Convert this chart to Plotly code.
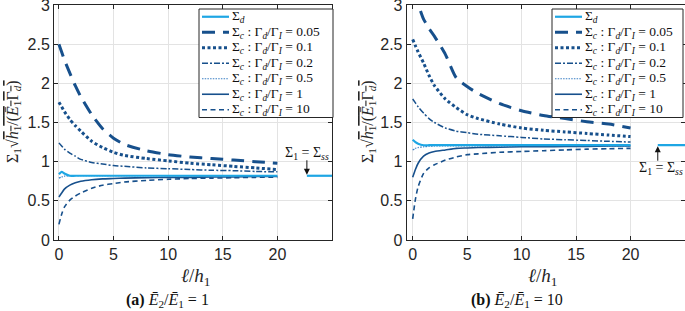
import plotly.graph_objects as go

W, H = 685, 311

# ---------------- data ----------------
x_grid = [0, 0.25, 0.5, 1, 1.5, 2, 3, 4, 5, 6, 8, 10, 12, 14, 16, 18, 20]

# Panel (a): E2/E1 = 1
a_sd   = [0.84, 0.87, 0.85, 0.82, 0.82, 0.82, 0.82, 0.82, 0.82, 0.82, 0.82, 0.82, 0.82, 0.82, 0.82, 0.82, 0.82]
a_005  = [2.5, 2.4, 2.3, 2.13, 1.97, 1.83, 1.6, 1.42, 1.3, 1.22, 1.14, 1.09, 1.06, 1.04, 1.02, 1.0, 0.98]
a_01   = [1.76, 1.7, 1.64, 1.54, 1.46, 1.39, 1.26, 1.18, 1.12, 1.08, 1.04, 1.01, 0.98, 0.96, 0.94, 0.92, 0.9]
a_02   = [1.24, 1.2, 1.16, 1.11, 1.07, 1.03, 0.99, 0.97, 0.95, 0.94, 0.92, 0.91, 0.9, 0.89, 0.885, 0.875, 0.87]
a_05   = [0.79, 0.805, 0.815, 0.82, 0.82, 0.82, 0.82, 0.82, 0.82, 0.82, 0.82, 0.82, 0.82, 0.82, 0.82, 0.82, 0.82]
a_1    = [0.55, 0.6, 0.65, 0.7, 0.73, 0.75, 0.77, 0.78, 0.785, 0.79, 0.795, 0.8, 0.8, 0.805, 0.805, 0.81, 0.81]
a_10   = [0.2, 0.33, 0.42, 0.51, 0.56, 0.6, 0.66, 0.7, 0.72, 0.74, 0.76, 0.775, 0.785, 0.79, 0.795, 0.8, 0.8]
a_ss_x = [22.7, 25]
a_ss   = [0.82, 0.82]

# Panel (b): E2/E1 = 10
b_sd   = [1.28, 1.25, 1.23, 1.21, 1.21, 1.21, 1.21, 1.21, 1.21, 1.21, 1.21, 1.21, 1.21, 1.21, 1.21, 1.21, 1.21]
b_005  = [3.45, 3.25, 3.02, 2.82, 2.7, 2.6, 2.37, 2.07, 1.96, 1.87, 1.74, 1.65, 1.59, 1.55, 1.51, 1.48, 1.43]
b_01   = [2.56, 2.48, 2.4, 2.26, 2.1, 1.97, 1.8, 1.69, 1.6, 1.55, 1.48, 1.43, 1.4, 1.38, 1.36, 1.34, 1.32]
b_02   = [1.8, 1.75, 1.7, 1.62, 1.55, 1.5, 1.43, 1.39, 1.37, 1.35, 1.33, 1.31, 1.29, 1.28, 1.27, 1.26, 1.25]
b_05   = [1.15, 1.17, 1.18, 1.19, 1.195, 1.2, 1.2, 1.2, 1.2, 1.2, 1.2, 1.2, 1.2, 1.2, 1.2, 1.2, 1.2]
b_1    = [0.8, 0.9, 0.98, 1.07, 1.11, 1.13, 1.15, 1.17, 1.175, 1.18, 1.185, 1.19, 1.19, 1.195, 1.195, 1.2, 1.2]
b_10   = [0.27, 0.52, 0.68, 0.85, 0.92, 0.96, 1.02, 1.06, 1.09, 1.1, 1.12, 1.13, 1.14, 1.15, 1.16, 1.165, 1.17]
b_ss_x = [22.5, 25]
b_ss   = [1.21, 1.21]

x_ticks = [0, 5, 10, 15, 20]
y_ticks = [0, 0.5, 1, 1.5, 2, 2.5, 3]
y_tick_labels = ["0", "0.5", "1", "1.5", "2", "2.5", "3"]

legend_labels = [
    "Σ<sub><i>d</i></sub>",
    "Σ<sub><i>c</i></sub> : Γ<sub><i>d</i></sub>/Γ<sub><i>I</i></sub> = 0.05",
    "Σ<sub><i>c</i></sub> : Γ<sub><i>d</i></sub>/Γ<sub><i>I</i></sub> = 0.1",
    "Σ<sub><i>c</i></sub> : Γ<sub><i>d</i></sub>/Γ<sub><i>I</i></sub> = 0.2",
    "Σ<sub><i>c</i></sub> : Γ<sub><i>d</i></sub>/Γ<sub><i>I</i></sub> = 0.5",
    "Σ<sub><i>c</i></sub> : Γ<sub><i>d</i></sub>/Γ<sub><i>I</i></sub> = 1",
    "Σ<sub><i>c</i></sub> : Γ<sub><i>d</i></sub>/Γ<sub><i>I</i></sub> = 10",
]

# ---------------- styles ----------------
LIGHT = "#1ea6e4"
DARK = "#17508c"
MID = "#3a7fc4"
styles = [
    dict(color=LIGHT, width=2.2, dash="solid"),
    dict(color=DARK, width=3.0, dash="13px,8px"),
    dict(color=DARK, width=3.0, dash="3px,2.5px"),
    dict(color=DARK, width=1.5, dash="6px,2px,2px,2px"),
    dict(color=MID, width=1.2, dash="1.5px,1.2px"),
    dict(color=DARK, width=1.6, dash="solid"),
    dict(color=DARK, width=1.6, dash="5px,3.5px"),
]

fig = go.Figure()

def add_panel(series, ss_x, ss_y, xa, ya):
    order = [1, 2, 3, 4, 5, 6, 0]  # Σd drawn on top
    for i in order:
        fig.add_trace(go.Scatter(
            x=x_grid, y=series[i], mode="lines", xaxis=xa, yaxis=ya,
            line=dict(shape="spline", smoothing=0.6, **styles[i]),
            showlegend=False, hoverinfo="skip"))
    fig.add_trace(go.Scatter(x=ss_x, y=ss_y, mode="lines", xaxis=xa, yaxis=ya,
                             line=styles[0], showlegend=False, hoverinfo="skip"))

add_panel([a_sd, a_005, a_01, a_02, a_05, a_1, a_10], a_ss_x, a_ss, "x", "y")
add_panel([b_sd, b_005, b_01, b_02, b_05, b_1, b_10], b_ss_x, b_ss, "x2", "y2")

TOP, BOT = 5, 71
axis_common = dict(
    showline=True, linecolor="#262626", linewidth=1, mirror="ticks",
    ticks="inside", ticklen=4, tickcolor="#262626",
    showgrid=True, gridcolor="#e3e3e3", gridwidth=1, zeroline=False,
    ticklabeloverflow="allow",
    tickfont=dict(family="Liberation Sans, Arial", size=16, color="#262626"),
)
fig.update_layout(
    width=W, height=H,
    margin=dict(l=0, r=0, t=TOP, b=BOT, autoexpand=False),
    paper_bgcolor="white", plot_bgcolor="white",
    showlegend=False,
    xaxis=dict(domain=[54 / W, 332 / W], range=[-0.45, 25], tickvals=x_ticks,
               anchor="y", **axis_common),
    yaxis=dict(domain=[0, 1], range=[0, 3], tickvals=y_ticks, ticktext=y_tick_labels,
               anchor="x", **axis_common),
    xaxis2=dict(domain=[406.7 / W, 1.0], range=[-0.55, 25], tickvals=x_ticks,
                anchor="y2", **axis_common),
    yaxis2=dict(domain=[0, 1], range=[0, 3], tickvals=y_ticks, ticktext=y_tick_labels,
                anchor="x2", **axis_common),
)

SERIF = "Liberation Serif, DejaVu Serif, serif"
PH = H - TOP - BOT

def px(xp):
    return xp / W

def py(yp):
    # pixel row -> paper y (paper spans plot area vertically)
    return (H - BOT - yp) / PH

ytitle = ("Σ<sub>1</sub>√<span style='text-decoration:overline'><i>h</i><sub>1</sub>/(<i>Ē</i>"
          "<sub>1</sub>Γ<sub><i>d</i></sub>)</span>")

annotations = []
shapes = []
for (yx, xtc, capx, caplabel, leg_l, leg_r) in [
        (13, 196, 167, "<b>(a)</b> <i>Ē</i><sub>2</sub>/<i>Ē</i><sub>1</sub> = 1", 199, 333),
        (368, 542, 517, "<b>(b)</b> <i>Ē</i><sub>2</sub>/<i>Ē</i><sub>1</sub> = 10", 552, 683)]:
    annotations.append(dict(x=px(yx), y=py(122), xref="paper", yref="paper", text=ytitle,
                            textangle=-90, showarrow=False, xanchor="center", yanchor="middle",
                            font=dict(family=SERIF, size=16, color="#262626")))
    annotations.append(dict(x=px(xtc), y=py(277), xref="paper", yref="paper",
                            text="<i>ℓ</i>/<i>h</i><sub>1</sub>", showarrow=False,
                            xanchor="center", yanchor="middle",
                            font=dict(family=SERIF, size=19, color="#262626")))
    annotations.append(dict(x=px(capx), y=py(300), xref="paper", yref="paper",
                            text=caplabel, showarrow=False,
                            xanchor="center", yanchor="middle",
                            font=dict(family=SERIF, size=16, color="#111")))
    # legend box
    top, bot = 9, 117.5
    shapes.append(dict(type="rect", xref="paper", yref="paper",
                       x0=px(leg_l), x1=px(leg_r), y0=py(bot), y1=py(top),
                       line=dict(color="#262626", width=1), fillcolor="white"))
    step = (bot - top) / 7
    for k in range(7):
        yc = top + step * (k + 0.5)
        st = styles[k]
        shapes.append(dict(type="line", xref="paper", yref="paper",
                           x0=px(leg_l + 3), x1=px(leg_l + 30), y0=py(yc), y1=py(yc),
                           line=dict(color=st["color"], width=st["width"], dash=st["dash"])))
        annotations.append(dict(x=px(leg_l + 31), y=py(yc), xref="paper", yref="paper",
                                xanchor="left", yanchor="middle", text=legend_labels[k],
                                showarrow=False,
                                font=dict(family=SERIF, size=13.5, color="#111")))

# steady-state annotations
ss_text = "Σ<sub>1</sub> = Σ<sub><i>ss</i></sub>"
annotations.append(dict(x=a_ss_x[0], y=a_ss[0], xref="x", yref="y", text="",
                        showarrow=True, ax=0, ay=-17, arrowhead=2, arrowsize=1.2,
                        arrowwidth=1, arrowcolor="#111", standoff=1))
annotations.append(dict(x=a_ss_x[0], y=1.1, xref="x", yref="y", text=ss_text,
                        showarrow=False, xanchor="center", yanchor="middle",
                        font=dict(family=SERIF, size=14, color="#111")))
annotations.append(dict(x=b_ss_x[0], y=b_ss[0], xref="x2", yref="y2", text="",
                        showarrow=True, ax=0, ay=17, arrowhead=2, arrowsize=1.2,
                        arrowwidth=1, arrowcolor="#111", standoff=1))
annotations.append(dict(x=22.8, y=0.91, xref="x2", yref="y2", text=ss_text,
                        showarrow=False, xanchor="center", yanchor="middle",
                        font=dict(family=SERIF, size=14, color="#111")))

fig.update_layout(annotations=annotations, shapes=shapes)
fig.write_html("out.html", config={"displayModeBar": False},
               post_script="document.body.style.margin='0';document.body.style.overflow='hidden';")
